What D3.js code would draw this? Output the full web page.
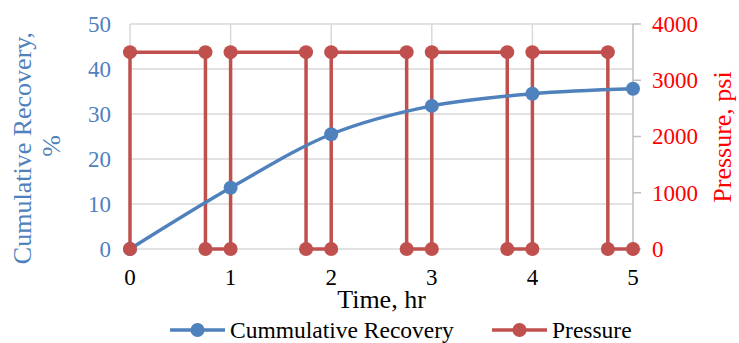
<!DOCTYPE html>
<html>
<head>
<meta charset="utf-8">
<script src="https://cdn.jsdelivr.net/npm/d3@7"></script>
<style>
  html, body { margin: 0; padding: 0; background: #fff; }
  svg { display: block; }
</style>
</head>
<body>
<svg id="chart" width="739" height="343"></svg>
<script>
// Cumulative recovery (%) sampled each hour
const recoveryTime = [0, 1, 2, 3, 4, 5];
const recoveryValues = [0, 13.6, 25.5, 31.8, 34.5, 35.6];

// Cyclic pressure schedule (psi): on for 0.75 hr, off for 0.25 hr
const pressureTime = [0, 0, 0.75, 0.75, 1, 1, 1.75, 1.75, 2, 2, 2.75, 2.75, 3, 3, 3.75, 3.75, 4, 4, 4.75, 4.75, 5];
const pressureValues = [0, 3500, 3500, 0, 0, 3500, 3500, 0, 0, 3500, 3500, 0, 0, 3500, 3500, 0, 0, 3500, 3500, 0, 0];

const xTicks = [0, 1, 2, 3, 4, 5];
const leftTicks = [0, 10, 20, 30, 40, 50];
const rightTicks = [0, 1000, 2000, 3000, 4000];

const seriesNames = ["Cummulative Recovery", "Pressure"];

const FONT = "Liberation Serif";
const blue = "#4F81BD";
const red = "#C0504D";
const grid = "#D9D9D9";

const svg = d3.select("#chart");
const plot = { left: 130, right: 633, top: 24, bottom: 249 };

const x = d3.scaleLinear().domain([0, 5]).range([plot.left, plot.right]);
const yL = d3.scaleLinear().domain([0, 50]).range([plot.bottom, plot.top]);
const yR = d3.scaleLinear().domain([0, 4000]).range([plot.bottom, plot.top]);
const fmt = d3.format("d");

// Plain text helper: every label gets its own font attributes
function label(parent, txt, opts) {
  const t = parent.append("text")
    .attr("font-family", FONT)
    .attr("font-size", opts.size)
    .attr("fill", opts.color)
    .attr("text-anchor", opts.anchor || "start")
    .text(txt);
  if (opts.transform) t.attr("transform", opts.transform);
  if (opts.x !== undefined) t.attr("x", opts.x);
  if (opts.y !== undefined) t.attr("y", opts.y);
  if (opts.dy) t.attr("dy", opts.dy);
  return t;
}

// Gridlines
const gridG = svg.append("g");
gridG.selectAll("line.h").data(leftTicks).join("line")
  .attr("x1", plot.left).attr("x2", plot.right)
  .attr("y1", d => yL(d)).attr("y2", d => yL(d))
  .attr("stroke", grid).attr("stroke-width", 1.5);
gridG.selectAll("line.v").data(xTicks.slice(0, -1)).join("line")
  .attr("x1", d => x(d)).attr("x2", d => x(d))
  .attr("y1", plot.top).attr("y2", plot.bottom)
  .attr("stroke", grid).attr("stroke-width", 1.5);

// Right axis line and ticks
const rAxis = svg.append("g");
rAxis.append("line")
  .attr("x1", plot.right).attr("x2", plot.right)
  .attr("y1", plot.top).attr("y2", plot.bottom)
  .attr("stroke", "#BFBFBF").attr("stroke-width", 1.5);
rAxis.selectAll("line.t").data(rightTicks).join("line")
  .attr("x1", plot.right).attr("x2", plot.right + 8)
  .attr("y1", d => yR(d)).attr("y2", d => yR(d))
  .attr("stroke", "#BFBFBF").attr("stroke-width", 1.5);

// Tick labels
const tickG = svg.append("g");
leftTicks.forEach(v => label(tickG, fmt(v), { size: 23, color: blue, anchor: "end", x: 111, y: yL(v), dy: "0.34em" }));
xTicks.forEach(v => label(tickG, fmt(v), { size: 23, color: "#000", anchor: "middle", x: x(v), y: 285 }));
rightTicks.forEach(v => label(tickG, fmt(v), { size: 23, color: "#FF0000", anchor: "start", x: 652, y: yR(v), dy: "0.34em" }));

// Axis titles
label(svg, "Cumulative Recovery,", { size: 26, color: blue, anchor: "middle", transform: "translate(31,148) rotate(-90)" });
label(svg, "%", { size: 26, color: blue, anchor: "middle", transform: "translate(60,146) rotate(-90)" });
label(svg, "Pressure, psi", { size: 26, color: "#FF0000", anchor: "middle", transform: "translate(731,137) rotate(-90)" });
label(svg, "Time, hr", { size: 26, color: "#000", anchor: "middle", x: (plot.left + plot.right) / 2, y: 308 });

// Series
const pressurePts = pressureTime.map((t, i) => [t, pressureValues[i]]);
const recoveryPts = recoveryTime.map((t, i) => [t, recoveryValues[i]]);

const pLine = d3.line().x(d => x(d[0])).y(d => yR(d[1]));
const rLine = d3.line().x(d => x(d[0])).y(d => yL(d[1])).curve(d3.curveCatmullRom.alpha(0.5));

svg.append("path").datum(pressurePts)
  .attr("d", pLine).attr("fill", "none").attr("stroke", red)
  .attr("stroke-width", 3.5).attr("stroke-linejoin", "round");

svg.append("path").datum(recoveryPts)
  .attr("d", rLine).attr("fill", "none").attr("stroke", blue)
  .attr("stroke-width", 3.5).attr("stroke-linecap", "round");

svg.append("g").selectAll("circle").data(recoveryPts).join("circle")
  .attr("cx", d => x(d[0])).attr("cy", d => yL(d[1])).attr("r", 7).attr("fill", blue);

svg.append("g").selectAll("circle").data(pressurePts).join("circle")
  .attr("cx", d => x(d[0])).attr("cy", d => yR(d[1])).attr("r", 7).attr("fill", red);

// Legend
const legendItems = [
  { name: seriesNames[0], color: blue, x0: 170 },
  { name: seriesNames[1], color: red, x0: 492 }
];
legendItems.forEach(item => {
  const g = svg.append("g").attr("transform", `translate(${item.x0},330)`);
  g.append("line").attr("x1", 0).attr("x2", 55).attr("y1", 0).attr("y2", 0)
    .attr("stroke", item.color).attr("stroke-width", 3.5);
  g.append("circle").attr("cx", 27.5).attr("cy", 0).attr("r", 7).attr("fill", item.color);
  label(g, item.name, { size: 23.5, color: "#000", x: 60, y: 7.5 });
});
</script>
</body>
</html>
